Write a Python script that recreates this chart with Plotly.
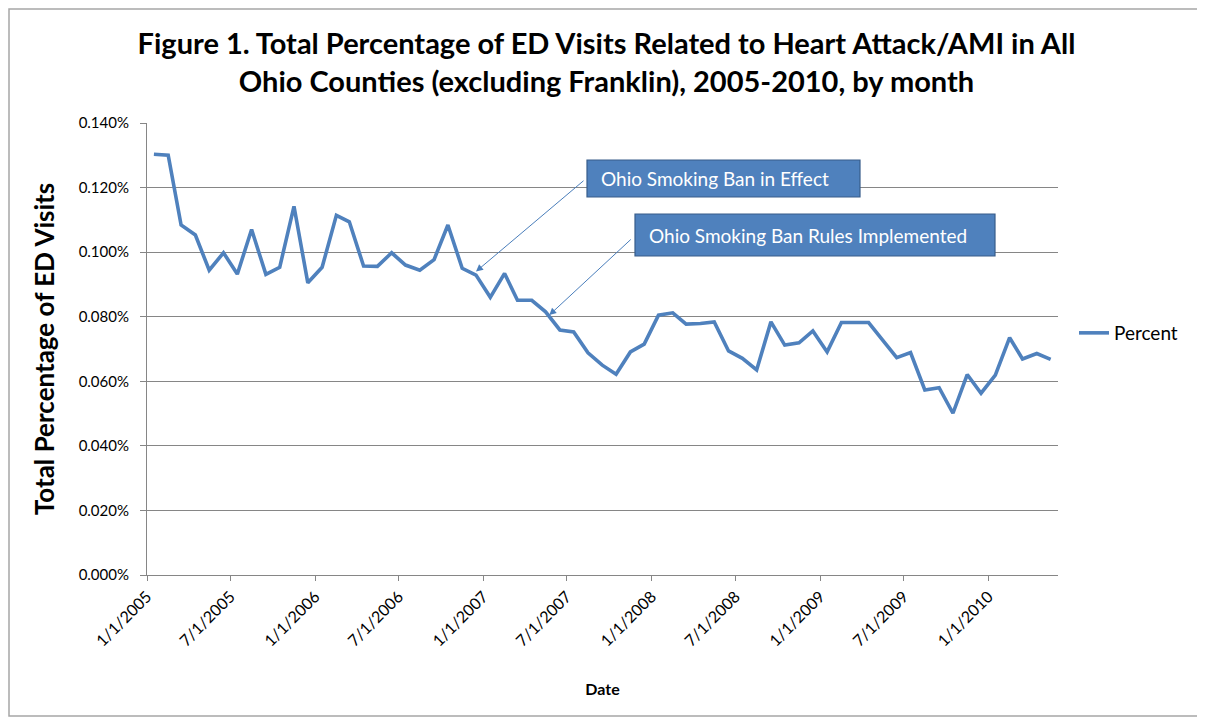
import pandas as pd
import plotly.graph_objects as go

# ---- data ----
start_month = "2005-01-01"
n_months = 65
percent = [
    0.1303, 0.1300, 0.1084, 0.1053, 0.0944, 0.0998, 0.0932, 0.1070, 0.0931, 0.0953,
    0.1142, 0.0905, 0.0953, 0.1114, 0.1094, 0.0957, 0.0956, 0.0998, 0.0960, 0.0944,
    0.0977, 0.1084, 0.0950, 0.0929, 0.0860, 0.0934, 0.0851, 0.0851, 0.0815, 0.0759,
    0.0753, 0.0688, 0.0650, 0.0622, 0.0691, 0.0715, 0.0805, 0.0812, 0.0777, 0.0779,
    0.0784, 0.0694, 0.0671, 0.0635, 0.0784, 0.0712, 0.0719, 0.0756, 0.0691, 0.0782,
    0.0782, 0.0782, 0.0728, 0.0673, 0.0689, 0.0573, 0.0580, 0.0501, 0.0621, 0.0563,
    0.0619, 0.0735, 0.0669, 0.0686, 0.0668,
]
tick_dates = ["2005-01-01", "2005-07-01", "2006-01-01", "2006-07-01", "2007-01-01",
              "2007-07-01", "2008-01-01", "2008-07-01", "2009-01-01", "2009-07-01",
              "2010-01-01"]
tick_labels = ["1/1/2005", "7/1/2005", "1/1/2006", "7/1/2006", "1/1/2007",
               "7/1/2007", "1/1/2008", "7/1/2008", "1/1/2009", "7/1/2009",
               "1/1/2010"]
y_ticks = [0.0, 0.02, 0.04, 0.06, 0.08, 0.10, 0.12, 0.14]
y_tick_labels = ["0.000%", "0.020%", "0.040%", "0.060%", "0.080%", "0.100%",
                 "0.120%", "0.140%"]
ann_ban_effect = ("Ohio Smoking Ban in Effect", "2006-12-16", 0.0940)
ann_ban_rules = ("Ohio Smoking Ban Rules Implemented", "2007-05-24", 0.0805)

months = pd.date_range(start_month, periods=n_months, freq="MS")
# Excel date axis draws points centred in each month slot
x_dates = months + pd.Timedelta(days=15)

# page body has an 8px margin, so the figure is a little smaller than the window
W, H = 1197, 711
L, R, T, B = 139, 147, 115, 144
PW, PH = W - L - R, H - T - B
OFF = 8  # screen offset of the figure


def px_x(p):  # screen px -> paper x
    return (p - OFF - L) / PW


def px_y(p):  # screen px -> paper y
    return (H - B - (p - OFF)) / PH


FONT = "Lato, Calibri, Carlito, sans-serif"
BLUE = "#4F81BD"
BOX_EDGE = "#385D8A"
GRID = "#868686"

fig = go.Figure()
fig.add_trace(go.Scatter(
    x=x_dates, y=percent, mode="lines", name="Percent",
    line=dict(color=BLUE, width=3.6),
))

fig.update_layout(
    width=W, height=H,
    margin=dict(l=L, r=R, t=T, b=B),
    paper_bgcolor="white", plot_bgcolor="white",
    font=dict(family=FONT, color="#000000"),
    title=dict(
        text="<b>Figure 1. Total Percentage of ED Visits Related to Heart Attack/AMI in All<br>"
             "Ohio Counties (excluding Franklin), 2005-2010, by month</b>",
        x=0.5, xanchor="center", y=1 - 46 / H, yanchor="middle",
        font=dict(size=29, family=FONT, color="#000000"),
    ),
    showlegend=True,
    legend=dict(x=px_x(1074), xanchor="left", y=px_y(333), yanchor="middle",
                font=dict(size=19, family=FONT, color="#000000"),
                bgcolor="rgba(0,0,0,0)"),
    xaxis=dict(
        type="date",
        range=["2005-01-01", "2010-06-01"],
        tickmode="array", tickvals=tick_dates, ticktext=tick_labels,
        tickangle=-45, tickfont=dict(size=16, family=FONT),
        showgrid=False, zeroline=False,
        showline=True, linecolor=GRID, linewidth=1,
        ticks="outside", ticklen=5, tickcolor=GRID,
        title=dict(text="<b>Date</b>", font=dict(size=16, family=FONT), standoff=35),
    ),
    yaxis=dict(
        range=[0, 0.14],
        tickmode="array", tickvals=y_ticks, ticktext=y_tick_labels,
        tickfont=dict(size=15, family=FONT),
        ticklabelstandoff=8,
        showgrid=True, gridcolor=GRID, gridwidth=1,
        zeroline=False,
        showline=True, linecolor=GRID, linewidth=1,
        ticks="outside", ticklen=6, tickcolor=GRID,
        title=dict(text="<b>Total Percentage of ED Visits</b>",
                   font=dict(size=26, family=FONT), standoff=16),
    ),
)

# outer chart border
fig.add_shape(type="rect", xref="paper", yref="paper",
              x0=px_x(9), x1=px_x(1201), y0=px_y(716), y1=px_y(9),
              line=dict(color="#A6A6A6", width=1.5), fillcolor="rgba(0,0,0,0)",
              layer="below")

# arrows
fig.add_annotation(x=ann_ban_effect[1], y=ann_ban_effect[2], xref="x", yref="y",
                   text="", showarrow=True, ax=109, ay=-92,
                   arrowhead=2, arrowsize=1.4, arrowwidth=1, arrowcolor="#4A7EBB")
fig.add_annotation(x=ann_ban_rules[1], y=ann_ban_rules[2], xref="x", yref="y",
                   text="", showarrow=True, ax=83, ay=-77,
                   arrowhead=2, arrowsize=1.4, arrowwidth=1, arrowcolor="#4A7EBB")

# callout boxes (screen px extents) and their texts
boxes = [
    (ann_ban_effect[0], 587, 860, 160, 197),
    (ann_ban_rules[0], 635, 995, 214, 256),
]
for text, bx0, bx1, by0, by1 in boxes:
    fig.add_shape(type="rect", xref="paper", yref="paper",
                  x0=px_x(bx0), x1=px_x(bx1), y0=px_y(by1), y1=px_y(by0),
                  fillcolor=BLUE, line=dict(color=BOX_EDGE, width=1.2), layer="above")
    fig.add_annotation(x=px_x(bx0 + 12), y=px_y((by0 + by1) / 2),
                       xref="paper", yref="paper", xanchor="left", yanchor="middle",
                       text=text, showarrow=False,
                       font=dict(size=19, family=FONT, color="white"))

fig.write_html("out.html")
